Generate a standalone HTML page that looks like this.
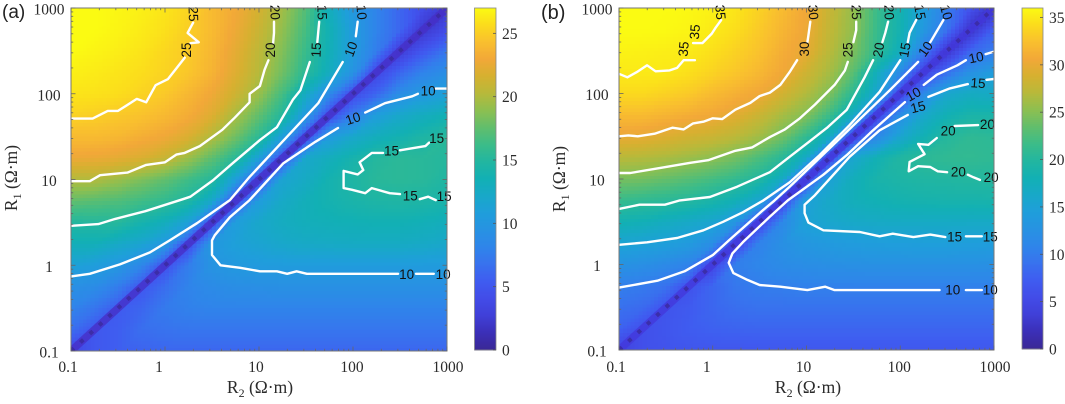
<!DOCTYPE html>
<html lang="en">
<head>
<meta charset="utf-8">
<title>Contour maps of R1 versus R2</title>
<style>
html,body{margin:0;padding:0;background:#fff;}
svg{display:block;}
.serif{font-family:"Liberation Serif",serif;fill:#2b2b2b;}
.sans{font-family:"Liberation Sans",sans-serif;}
</style>
</head>
<body>
<svg id="figure" width="1065" height="404" viewBox="0 0 1065 404" xmlns="http://www.w3.org/2000/svg">
  <text class="sans" x="2" y="18" font-size="19" fill="#222">(a)</text>
  <text class="sans" x="541" y="19" font-size="20" fill="#222">(b)</text>
  <text class="serif" x="260" y="393" font-size="17.5" text-anchor="middle">R<tspan font-size="12" dy="4">2</tspan><tspan dy="-4"> (Ω·m)</tspan></text>
  <text class="serif" x="808" y="393" font-size="17.5" text-anchor="middle">R<tspan font-size="12" dy="4">2</tspan><tspan dy="-4"> (Ω·m)</tspan></text>
  <text class="serif" transform="translate(17,178) rotate(-90)" font-size="17.5" text-anchor="middle">R<tspan font-size="12" dy="4">1</tspan><tspan dy="-4"> (Ω·m)</tspan></text>
  <text class="serif" transform="translate(565,179) rotate(-90)" font-size="17.5" text-anchor="middle">R<tspan font-size="12" dy="4">1</tspan><tspan dy="-4"> (Ω·m)</tspan></text>
</svg>
<script>
// ---------- axes ----------
const decadeLogs = [-1, 0, 1, 2, 3];
const decadeLabels = ["0.1", "1", "10", "100", "1000"];
const logR2Grid = [-1,-0.75,-0.5,-0.25,0,0.25,0.5,0.75,1,1.25,1.5,1.75,2,2.25,2.5,2.75,3];
const logR1Grid = [3,2.75,2.5,2.25,2,1.75,1.5,1.25,1,0.75,0.5,0.25,0,-0.25,-0.5,-0.75,-1];
const colorbarTicksA = [0,5,10,15,20,25];
const colorbarTicksB = [0,5,10,15,20,25,30,35];
const colorbarMaxA = 27;
const colorbarMaxB = 36;

// ---------- heatmap values: one row per logR1Grid entry, one column per logR2Grid entry ----------
const valuesA = [
[27,27,26.8,26.5,26,25.3,24,23,21.5,19.5,17,13,10,8,6,4,2],
[27,27,26.7,26.3,25.8,25,24,22.7,21,19,16.5,13.5,10.5,8,6,2,4],
[27,26.7,26.4,26,25.4,24.8,23.8,22.3,20.5,18.5,16,13.3,10.5,7.5,2.5,5,7],
[26.5,26.3,26,25.7,25.2,24.6,23.6,22,20.2,18,15.4,12.8,9.5,3.5,6,8,9],
[26,25.9,25.7,25.2,24.7,23.8,22.8,21.2,19.2,16.5,12.5,8.5,4,6,9,10.3,11],
[25.2,25,24.7,24.4,23.9,23.2,22,19.7,17.5,15,10.2,4,7.5,10.7,12,12.8,13.5],
[24,24,23.8,23.3,22.8,21.8,20,18,15.5,10.8,4,10.5,12,13,13.7,14.5,15.2],
[22.7,22.6,22.3,21.8,20.9,19.3,17.4,15.3,11,4,12,13,14,15,15.3,15.2,15],
[20,20,19.3,18.4,17.5,16.3,15.1,10.8,4,11.5,12.5,13.8,14.6,15.2,15.3,15.2,14.7],
[17.5,17.2,16.9,16.3,15.7,14.6,12,4,10.6,12.3,13.2,13.8,14.2,14.5,14.6,14.5,14.2],
[14.9,15,15.1,14,13,11,4,10.7,12,12.7,13.1,13.3,13.4,13.5,13.5,13.3,13],
[13.2,13.2,12.3,11.5,10,4,10,11,11.5,12,12.3,12.4,12.5,12.5,12.5,12.3,12],
[11.1,10.7,10,8.3,4.5,7.5,9.6,10.2,10.4,10.5,10.5,10.5,10.5,10.5,10.5,10.5,10.5],
[9.2,8.8,7.5,5,6.5,8,8.7,9,9.1,9.2,9.2,9.2,9.2,9.2,9.2,9.2,9.2],
[8,7,5.3,6,7.3,7.8,8,8,8,8,8,8,8,8,8,8,8],
[6.5,5,5.5,6.5,6.8,7,7,7,7,7,7,7,7,7,7,7,7],
[3.5,5,5.5,5.8,6,6,6,6,6,6,6,6,6,6,6,6,6]
];
const valuesB = [
[36,36,36,35.8,35.4,34.7,33.5,32,30.5,27.8,25.5,21.5,18.5,14.3,10,6,2],
[36,36,35.9,35.6,35,34.3,33,31.6,30.3,27.5,25.3,21.3,18.3,13.5,9,2,7.5],
[35.5,35.4,35.2,35,34.4,33.5,32.5,31,29.8,27,24.5,21,17.3,10,2.5,8,10],
[35,35,34.9,34.4,33.6,32.8,31.8,30.5,28.3,26.2,23,17.5,11.5,4,8.7,12.3,14],
[34,34,33.5,33,32,31.2,30.4,28.5,26.7,24.5,20.5,15.5,4.5,11.5,15.8,16.8,16.5],
[32,32,31.5,31,30.5,29.5,28,26.2,24.7,21.5,16.5,4.5,12,16,18,19,19],
[30,29.8,29.2,28.5,28,27.2,26,24,21,16.8,4.5,11,15.5,18,20,20.7,20.5],
[27,26.8,26.4,25.8,25.1,24,22.3,20.3,16.5,4.5,15.8,18,19.7,20.5,20.8,20.9,20.7],
[24.3,24.1,23.5,22.8,22,21,19.7,16.5,4.5,15,17.5,18.8,19.3,19.6,19.7,19.9,20],
[21.2,20.8,20.4,19.9,19,17.8,15.5,4.5,14.7,16.3,17.5,18,18.4,18.6,18.7,18.7,18.8],
[18.2,17.8,17,16.3,15.5,13,4.5,11.3,15,15.8,16.3,16.5,16.6,16.6,16.6,16.5,16.5],
[15.2,14.9,14.6,13.9,12,4.5,10.5,12.3,13.3,13.8,14.1,14.3,14.4,14.5,14.5,14.4,14.3],
[12.7,12.2,11.5,10.6,4.5,10.2,11,11.7,12,12.2,12.3,12.4,12.4,12.4,12.4,12.4,12.3],
[10.2,9.8,9,6,8,9.5,10,10.2,10.4,10.4,10.4,10.4,10.4,10.4,10.4,10.4,10.4],
[8.9,8.3,6.3,7,8,8.7,9,9,9,9,9,9,9,9,9,9,9],
[7.7,5.8,6.5,7.2,7.6,7.8,7.9,7.9,7.9,7.9,7.9,7.9,7.9,7.9,7.9,7.9,7.9],
[4,5.8,6.2,6.4,6.5,6.5,6.6,6.6,6.6,6.6,6.6,6.6,6.6,6.6,6.6,6.6,6.6]
];

// ---------- contour lines, [log10 R2, log10 R1] ----------
const a25left = [[-1,1.71],[-0.77,1.71],[-0.61,1.80],[-0.50,1.80],[-0.30,1.94],[-0.20,1.90],[-0.10,2.10],[0.03,2.17],[0.11,2.28],[0.21,2.42]];
const a25top = [[0.27,2.59],[0.36,2.60],[0.24,2.71],[0.30,2.83]];
const a20left = [[-1,0.98],[-0.80,0.98],[-0.69,1.05],[-0.40,1.08],[-0.20,1.17],[0,1.20],[0.12,1.29],[0.21,1.31],[0.37,1.39],[0.61,1.58],[0.74,1.72],[0.90,1.90],[0.90,2.00],[1.01,2.09],[1.06,2.28],[1.10,2.39]];
const a20top = [[1.15,2.59],[1.16,2.71],[1.16,2.84]];
const a15left = [[-1,0.46],[-0.71,0.48],[-0.53,0.54],[-0.21,0.63],[0.19,0.77],[0.27,0.80],[0.51,0.99],[0.72,1.19],[1.01,1.46],[1.19,1.61],[1.36,1.93],[1.44,2.04],[1.54,2.37]];
const a15top = [[1.62,2.60],[1.64,2.84]];
const a10left = [[-1,-0.13],[-0.80,-0.10],[-0.48,0.01],[-0.16,0.15],[0.05,0.29],[0.34,0.49],[0.69,0.76],[0.90,1.03],[1.30,1.50],[1.63,1.89],[1.89,2.37]];
const a10top = [[2.03,2.67],[2.05,2.84]];
const a10rightEnd = [[3,2.06],[2.88,2.06]];
const a10rightMid = [[2.69,2.00],[2.63,1.97],[2.34,1.89],[2.13,1.78]];
const a10lower = [[1.84,1.60],[1.60,1.44],[1.26,1.19],[0.90,0.76],[0.69,0.56],[0.53,0.35],[0.50,0.29],[0.50,0.12],[0.59,0],[0.80,-0.03],[1.01,-0.07],[1.19,-0.07],[1.30,-0.10],[1.40,-0.07],[1.51,-0.10],[2.48,-0.10]];
const a10lowerEnd = [[2.67,-0.10],[2.86,-0.10]];
const a15rightEnd = [[2.81,1.43],[2.77,1.39],[2.61,1.36],[2.50,1.34]];
const a15island = [[2.32,1.31],[2.20,1.31],[2.07,1.20],[2.11,1.11],[2.05,1.06],[1.90,1.10],[1.90,0.90],[1.99,0.88],[2.13,0.84],[2.20,0.90],[2.39,0.84],[2.50,0.83]];
const a15islandEnd = [[2.71,0.77],[2.80,0.80],[2.88,0.76]];
const linesA = [a25left,a25top,a20left,a20top,a15left,a15top,a10left,a10top,a10rightEnd,a10rightMid,a10lower,a10lowerEnd,a15rightEnd,a15island,a15islandEnd];

const b35left = [[-1,2.23],[-0.91,2.19],[-0.81,2.25],[-0.70,2.33],[-0.61,2.26],[-0.46,2.27],[-0.38,2.30],[-0.31,2.39],[-0.19,2.39]];
const b35top = [[-0.21,2.59],[-0.11,2.59],[-0.01,2.70],[0.03,2.77],[0.09,2.86]];
const b30left = [[-1,1.50],[-0.90,1.51],[-0.80,1.50],[-0.62,1.53],[-0.43,1.60],[-0.31,1.58],[-0.21,1.65],[-0.10,1.67],[0,1.71],[0.10,1.70],[0.24,1.81],[0.40,1.89],[0.50,1.97],[0.61,2.01],[0.72,2.10],[0.82,2.25],[0.90,2.39]];
const b30top = [[1.01,2.60],[1.02,2.68],[1.04,2.84]];
const b25left = [[-1,1.07],[-0.88,1.07],[-0.56,1.13],[-0.24,1.19],[-0.05,1.22],[0.24,1.33],[0.42,1.37],[0.61,1.49],[0.77,1.58],[0.93,1.71],[1.09,1.87],[1.30,2.10],[1.41,2.27],[1.44,2.37]];
const b25top = [[1.50,2.60],[1.53,2.74],[1.53,2.84]];
const b20left = [[-1,0.65],[-0.78,0.70],[-0.51,0.70],[-0.35,0.75],[-0.03,0.79],[0.26,0.91],[0.61,1.08],[0.82,1.26],[1.01,1.42],[1.22,1.60],[1.43,1.81],[1.62,2.19],[1.71,2.39]];
const b20top = [[1.81,2.60],[1.84,2.71],[1.87,2.84]];
const b15left = [[-1,0.23],[-0.70,0.26],[-0.38,0.31],[-0.10,0.40],[0.11,0.50],[0.32,0.61],[0.54,0.75],[0.82,0.96],[1.14,1.28],[1.46,1.63],[1.78,2.02],[2.00,2.39]];
const b15top = [[2.08,2.60],[2.10,2.71],[2.17,2.86]];
const b10left = [[-1,-0.27],[-0.59,-0.19],[-0.30,-0.08],[0,0.11],[0.18,0.29],[0.54,0.64],[0.66,0.75],[0.82,0.91],[1.36,1.48],[1.89,2.04],[2.19,2.37]];
const b10top = [[2.32,2.60],[2.46,2.86]];
const b10rightEnd = [[3,2.49],[2.91,2.46]];
const b10rightMid = [[2.70,2.39],[2.61,2.33],[2.39,2.22],[2.25,2.10]];
const b10lower = [[2.05,1.90],[1.71,1.57],[1.43,1.28],[1.18,1.05],[0.80,0.75],[0.61,0.56],[0.32,0.26],[0.21,0.13],[0.17,0.02],[0.22,-0.10],[0.37,-0.18],[0.50,-0.24],[0.72,-0.26],[1.01,-0.30],[1.20,-0.26],[1.30,-0.30],[2.42,-0.30]];
const b10lowerEnd = [[2.70,-0.30],[2.87,-0.30]];
const b15rightEnd = [[3,2.17],[2.92,2.16]];
const b15rightMid = [[2.72,2.11],[2.53,2.06],[2.30,1.96]];
const b15lower = [[2.08,1.75],[1.78,1.57],[1.46,1.26],[1.09,0.81],[0.98,0.70],[0.98,0.60],[1.02,0.49],[1.18,0.40],[1.57,0.38],[1.78,0.33],[1.92,0.36],[2.14,0.32],[2.32,0.35],[2.48,0.32]];
const b15lowerEnd = [[2.70,0.33],[2.87,0.33]];
const b20rightTop = [[2.83,1.63],[2.58,1.62]];
const b20island = [[2.39,1.48],[2.30,1.40],[2.19,1.41],[2.26,1.29],[2.10,1.20],[2.09,1.09],[2.19,1.15],[2.32,1.14],[2.40,1.09],[2.50,1.08]];
const b20islandEnd = [[2.72,1.05],[2.78,1.02],[2.85,0.99]];
const linesB = [b35left,b35top,b30left,b30top,b25left,b25top,b20left,b20top,b15left,b15top,b10left,b10top,b10rightEnd,b10rightMid,b10lower,b10lowerEnd,b15rightEnd,b15rightMid,b15lower,b15lowerEnd,b20rightTop,b20island,b20islandEnd];

// ---------- contour labels: printed level, log10 R2, log10 R1 ----------
const labelsA = [["25",0.30,2.93],["25",0.23,2.51],["20",1.17,2.95],["20",1.12,2.51],["15",1.67,2.95],["15",1.61,2.51],["10",2.09,2.95],["10",1.98,2.52],["10",2.80,2.03],["10",2.00,1.71],["15",2.89,1.48],["15",2.41,1.33],["15",2.61,0.81],["15",2.97,0.80],["10",2.57,-0.11],["10",2.96,-0.11]];
const labelsB = [["35",0.08,2.95],["35",-0.19,2.72],["35",-0.31,2.52],["30",1.07,2.95],["30",0.98,2.52],["25",1.53,2.95],["25",1.44,2.51],["20",1.88,2.95],["20",1.77,2.51],["15",2.21,2.95],["15",2.05,2.51],["10",2.49,2.95],["10",2.27,2.52],["10",2.81,2.42],["15",2.83,2.12],["10",2.14,1.99],["15",2.19,1.84],["20",2.93,1.64],["20",2.51,1.56],["20",2.62,1.08],["20",2.97,1.02],["15",2.58,0.32],["15",2.96,0.32],["10",2.56,-0.30],["10",2.96,-0.30]];

// ---------- drawing ----------
const SVGNS = "http://www.w3.org/2000/svg";
const figure = document.getElementById("figure");
const firstStatic = figure.firstElementChild;

function node(parent, tag, attrs) {
  const el = document.createElementNS(SVGNS, tag);
  for (const k in attrs) el.setAttribute(k, attrs[k]);
  parent.appendChild(el);
  return el;
}

function hexRgb(h) {
  return [parseInt(h.slice(1,3),16), parseInt(h.slice(3,5),16), parseInt(h.slice(5,7),16)];
}
const rampColors = ["#3a2896","#3b2fb8","#4040d8","#424ce8","#3f5cf0","#3872ee","#2f85ea","#2792e2","#1f9edb","#18a8c8","#12b0b4","#22b6a0","#3cbc88","#62be6c","#8ebf50","#b8b93a","#d6b030","#f2a838","#f9c02e","#fbdc1c","#fbfb12"].map(hexRgb);
function colorOf(u) {
  const t = Math.max(0, Math.min(0.9999, u)) * (rampColors.length - 1);
  const i = Math.floor(t), f = t - i, a = rampColors[i], b = rampColors[i + 1];
  return "rgb(" + Math.round(a[0]+(b[0]-a[0])*f) + "," + Math.round(a[1]+(b[1]-a[1])*f) + "," + Math.round(a[2]+(b[2]-a[2])*f) + ")";
}

function drawPanel(p) {
  const xS = v => p.x0 + (v + 1) / 4 * (p.x1 - p.x0);
  const yS = v => p.y1 - (v + 1) / 4 * (p.y1 - p.y0);
  const cS = v => p.cy1 - v / p.max * (p.cy1 - p.cy0);

  const group = node(figure, "g", {});
  
  
  figure.insertBefore(group, firstStatic);

  const clip = node(group, "clipPath", {id: "plot-clip-" + p.id});
  node(clip, "rect", {x: p.x0, y: p.y0, width: p.x1 - p.x0, height: p.y1 - p.y0});

  // heatmap
  const heat = node(group, "g", {"shape-rendering": "crispEdges"});
  
  
  const N = 6;
  for (let r = 0; r < logR1Grid.length - 1; r++) {
    for (let c = 0; c < logR2Grid.length - 1; c++) {
      const z00 = p.values[r + 1][c], z10 = p.values[r + 1][c + 1], z01 = p.values[r][c], z11 = p.values[r][c + 1];
      const xa = logR2Grid[c], xb = logR2Grid[c + 1], ya = logR1Grid[r + 1], yb = logR1Grid[r];
      for (let i = 0; i < N; i++) {
        for (let j = 0; j < N; j++) {
          const s = (i + 0.5) / N, t = (j + 0.5) / N;
          const z = s >= t ? z00 + s * (z10 - z00) + t * (z11 - z10) : z00 + t * (z01 - z00) + s * (z11 - z01);
          const px = xS(xa + (xb - xa) * i / N), pxe = xS(xa + (xb - xa) * (i + 1) / N);
          const py = yS(ya + (yb - ya) * (j + 1) / N), pye = yS(ya + (yb - ya) * j / N);
          const cell = node(heat, "rect", {x: px.toFixed(2), y: py.toFixed(2), width: (pxe - px + 0.6).toFixed(2), height: (pye - py + 0.6).toFixed(2), fill: colorOf(z / p.max)});
          
          
        }
      }
    }
  }

  // diagonal valley
  const band = node(group, "line", {x1: xS(-1), y1: yS(-1), x2: xS(3), y2: yS(3), stroke: p.bandColor, "stroke-opacity": 0.8, "stroke-width": 7.5, "clip-path": "url(#plot-clip-" + p.id + ")"});
  
  
  const beads = node(group, "line", {x1: xS(-1), y1: yS(-1), x2: xS(3), y2: yS(3), stroke: "#3a2a9c", "stroke-opacity": 0.8, "stroke-width": 4, "stroke-dasharray": "4 8.7", "clip-path": "url(#plot-clip-" + p.id + ")"});
  
  

  // contours
  p.lines.forEach(line => {
    const pts = line.map(q => xS(q[0]).toFixed(1) + "," + yS(q[1]).toFixed(1)).join(" ");
    const poly = node(group, "polyline", {points: pts, fill: "none", stroke: "#fff", "stroke-width": 2.4, "stroke-linejoin": "round", "stroke-linecap": "round"});
    
    
  });
  p.labels.forEach((lab, i) => {
    const tx = xS(lab[1]), ty = yS(lab[2]);
    const t = node(group, "text", {class: "sans", x: tx.toFixed(1), y: ty.toFixed(1), "font-size": 13.5, fill: "#111", "text-anchor": "middle", "dominant-baseline": "central", transform: "rotate(" + p.angles[i] + " " + tx.toFixed(1) + " " + ty.toFixed(1) + ")"});
    t.textContent = lab[0];
    
    
  });

  // axes frame and ticks
  const frame = node(group, "rect", {x: p.x0, y: p.y0, width: p.x1 - p.x0, height: p.y1 - p.y0, fill: "none", stroke: "#777", "stroke-width": 1});
  
  
  const ticks = node(group, "g", {stroke: "#666", "stroke-width": 0.8});
  
  
  const minorFactors = [2,3,4,5,6,7,8,9];
  decadeLogs.forEach((d, i) => {
    const marks = [[d, 4.5]];
    if (i < decadeLogs.length - 1) minorFactors.forEach(m => marks.push([d + Math.log10(m), 2.2]));
    marks.forEach(mk => {
      const x = xS(mk[0]), y = yS(mk[0]), L = mk[1];
      node(ticks, "line", {x1: x, x2: x, y1: p.y1, y2: p.y1 - L});
      node(ticks, "line", {x1: x, x2: x, y1: p.y0, y2: p.y0 + L});
      node(ticks, "line", {x1: p.x0, x2: p.x0 + L, y1: y, y2: y});
      node(ticks, "line", {x1: p.x1, x2: p.x1 - L, y1: y, y2: y});
    });
  });
  const xNudge = [-3, -6, -3, -1, 1];
  decadeLogs.forEach((d, i) => {
    const xl = node(group, "text", {class: "serif", x: xS(d) + xNudge[i], y: 372, "font-size": 15.5, "text-anchor": "middle"});
    xl.textContent = decadeLabels[i];
    
    
    const yl = node(group, "text", {class: "serif", x: p.yLabelX, y: yS(d) + 6.5, "font-size": 15.5, "text-anchor": "middle"});
    yl.textContent = decadeLabels[i];
    
    
  });

  // colorbar
  const bar = node(group, "g", {"shape-rendering": "crispEdges"});
  
  
  const steps = 171;
  for (let k = 0; k < steps; k++) {
    const vLo = p.max * k / steps, vHi = p.max * (k + 1) / steps;
    node(bar, "rect", {x: p.cx0, y: cS(vHi).toFixed(2), width: p.cx1 - p.cx0, height: (cS(vLo) - cS(vHi) + 0.5).toFixed(2), fill: colorOf(vLo / p.max)});
  }
  const barFrame = node(group, "rect", {x: p.cx0, y: p.cy0, width: p.cx1 - p.cx0, height: p.cy1 - p.cy0, fill: "none", stroke: "#888", "stroke-width": 0.8});
  
  
  p.cticks.forEach(v => {
    const tk = node(group, "line", {x1: p.cx1 - 3, x2: p.cx1, y1: cS(v), y2: cS(v), stroke: "#555", "stroke-width": 0.8});
    
    
    const cl = node(group, "text", {class: "serif", x: p.cx1 + 6, y: cS(v) + 5.5, "font-size": 15.5});
    cl.textContent = String(v);
    
    
  });
}

drawPanel({id: "a", x0: 71, x1: 447, y0: 8, y1: 351, values: valuesA, lines: linesA, labels: labelsA,
  angles: [88,-90,88,-90,88,-88,85,-70,0,-18,0,0,0,0,0,0],
  bandColor: "#4630c8", yLabelX: 49, cx0: 474.5, cx1: 496, cy0: 8, cy1: 350, max: colorbarMaxA, cticks: colorbarTicksA});
drawPanel({id: "b", x0: 619, x1: 994, y0: 8, y1: 350, values: valuesB, lines: linesB, labels: labelsB,
  angles: [85,-85,-85,85,-90,88,-90,88,-80,80,-80,75,-55,-12,4,-30,-14,0,0,0,0,0,0,0,0],
  bandColor: "#4238dc", yLabelX: 597, cx0: 1022, cx1: 1043, cy0: 8, cy1: 349, max: colorbarMaxB, cticks: colorbarTicksB});
</script>
</body>
</html>
